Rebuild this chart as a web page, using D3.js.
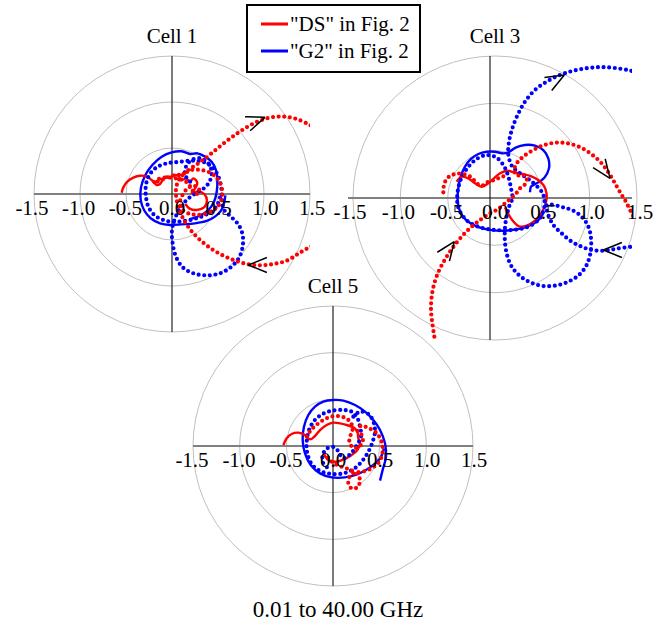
<!DOCTYPE html>
<html>
<head>
<meta charset="utf-8">
<script src="https://d3js.org/d3.v7.min.js"></script>
<style>
body { margin:0; background:#fff; }
svg { display:block; }
text { font-family: "Liberation Serif", "Times New Roman", serif; fill:#000; }
</style>
</head>
<body>
<div id="chart"></div>
<script>
// values, as [re, im]
var tickValues = [-1.5, -1.0, -0.5, 0.0, 0.5, 1.0, 1.5];
var ringValues = [0.5, 1.0, 1.5];
var legendLabels = ['"DS" in Fig. 2', '"G2" in Fig. 2'];
var freqLabel = "0.01 to 40.00 GHz";

var cell1RedDotted = [[1.57,-0.54],[1.518,-0.565],[1.391,-0.638],[1.246,-0.725],[1.101,-0.761],[0.957,-0.775],[0.812,-0.761],[0.667,-0.717],[0.522,-0.652],[0.395,-0.572],[0.286,-0.482],[0.196,-0.384],[0.130,-0.283],[0.080,-0.174],[0.051,-0.065],[0.043,0.043],[0.069,0.145],[0.130,0.217],[0.214,0.261],[0.312,0.261],[0.413,0.232],[0.493,0.170],[0.540,0.072],[0.543,-0.036],[0.504,-0.130],[0.420,-0.192],[0.304,-0.225],[0.196,-0.217],[0.116,-0.174],[0.087,-0.090],[0.120,0.000],[0.170,0.060],[0.230,0.090],[0.280,0.070],[0.300,0.020],[0.260,0.000],[0.220,0.040],[0.180,0.110],[0.120,0.150],[0.040,0.170],[-0.060,0.180],[-0.150,0.160],[-0.200,0.120],[-0.120,0.150],[-0.020,0.190],[0.060,0.210],[0.105,0.207],[0.178,0.261],[0.261,0.315],[0.348,0.377],[0.438,0.449],[0.540,0.533],[0.649,0.616],[0.775,0.703],[0.920,0.783],[1.065,0.830],[1.210,0.841],[1.355,0.815],[1.500,0.750],[1.572,0.714]];
var cell1RedSolid = [[-0.547,0.014],[-0.529,0.072],[-0.486,0.134],[-0.420,0.178],[-0.348,0.199],[-0.275,0.188],[-0.221,0.152],[-0.167,0.098],[-0.130,0.109],[-0.101,0.152],[-0.065,0.188],[-0.022,0.181],[0.022,0.207],[0.069,0.196],[0.105,0.152],[0.152,0.170],[0.196,0.134],[0.232,0.170],[0.275,0.123],[0.250,0.060],[0.214,0.007],[0.286,0.029],[0.351,0.000],[0.380,-0.072],[0.348,-0.145],[0.268,-0.174],[0.188,-0.156],[0.145,-0.109]];
var cell1BlueSolid = [[0.580,-0.014],[0.565,-0.101],[0.533,-0.181],[0.467,-0.246],[0.377,-0.293],[0.250,-0.319],[0.105,-0.330],[-0.022,-0.337],[-0.130,-0.319],[-0.232,-0.264],[-0.304,-0.174],[-0.341,-0.058],[-0.337,0.072],[-0.293,0.199],[-0.214,0.315],[-0.112,0.406],[-0.004,0.453],[0.105,0.464],[0.196,0.435],[0.275,0.442],[0.359,0.406],[0.431,0.351],[0.478,0.261],[0.493,0.145],[0.486,0.025],[0.457,-0.083],[0.395,-0.174],[0.297,-0.239],[0.188,-0.275]];
var cell1BlueDotted = [[0.196,0.134],[0.141,0.207],[0.152,0.297],[0.214,0.370],[0.312,0.388],[0.395,0.333],[0.431,0.243],[0.413,0.145],[0.359,0.072],[0.268,0.014],[0.167,-0.058],[0.087,-0.156],[0.033,-0.264],[0.000,-0.391],[0.007,-0.536],[0.043,-0.681],[0.116,-0.797],[0.232,-0.862],[0.377,-0.884],[0.522,-0.862],[0.638,-0.797],[0.725,-0.699],[0.768,-0.572],[0.768,-0.446],[0.725,-0.337],[0.649,-0.254],[0.565,-0.170],[0.543,-0.065],[0.536,0.062],[0.504,0.188],[0.442,0.290],[0.341,0.348],[0.214,0.362],[0.069,0.348],[-0.058,0.333],[-0.167,0.290],[-0.246,0.207],[-0.283,0.098],[-0.283,-0.029],[-0.254,-0.145],[-0.188,-0.232],[-0.094,-0.283],[0.014,-0.304],[0.141,-0.293],[0.268,-0.264],[0.384,-0.217],[0.478,-0.145],[0.522,-0.036]];

var cell3RedDotted = [[-0.588,-1.465],[-0.609,-1.324],[-0.623,-1.183],[-0.616,-1.042],[-0.588,-0.901],[-0.539,-0.768],[-0.475,-0.648],[-0.398,-0.532],[-0.306,-0.415],[-0.201,-0.310],[-0.095,-0.225],[0.000,-0.162],[0.081,-0.120],[0.151,-0.063],[0.211,-0.014],[0.264,0.032],[0.317,0.102],[0.370,0.144],[0.387,0.208],[0.335,0.250],[0.282,0.236],[0.257,0.296],[0.282,0.366],[0.352,0.437],[0.458,0.507],[0.574,0.560],[0.704,0.585],[0.835,0.574],[0.961,0.532],[1.074,0.461],[1.173,0.373],[1.257,0.261],[1.327,0.144],[1.391,0.032],[1.426,-0.021],[1.479,-0.127],[1.532,-0.225],[1.574,-0.296]];
var cell3RedDottedLeft = [[-0.493,0.060],[-0.482,0.155],[-0.433,0.225],[-0.352,0.257],[-0.264,0.250],[-0.194,0.215],[-0.141,0.155],[-0.088,0.130],[-0.035,0.165],[0.018,0.180],[0.070,0.201],[0.130,0.225],[0.187,0.243]];
var cell3RedSolid = [[-0.352,0.172],[-0.299,0.225],[-0.229,0.208],[-0.158,0.155],[-0.088,0.119],[-0.018,0.155],[0.042,0.208],[0.106,0.261],[0.183,0.288],[0.264,0.267],[0.345,0.253],[0.430,0.232],[0.510,0.190],[0.570,0.127],[0.598,0.042],[0.588,-0.056],[0.546,-0.155],[0.475,-0.240],[0.380,-0.296],[0.299,-0.296],[0.240,-0.240],[0.194,-0.169],[0.158,-0.099]];
var cell3BlueSolid = [[0.423,0.060],[0.433,0.120],[0.493,0.155],[0.574,0.215],[0.623,0.313],[0.616,0.419],[0.563,0.507],[0.475,0.553],[0.370,0.560],[0.271,0.532],[0.194,0.482],[0.130,0.472],[0.053,0.489],[-0.035,0.489],[-0.123,0.465],[-0.201,0.412],[-0.264,0.331],[-0.310,0.225],[-0.335,0.102],[-0.342,-0.021],[-0.327,-0.109],[-0.282,-0.204],[-0.194,-0.275],[-0.070,-0.324],[0.070,-0.345],[0.229,-0.338],[0.370,-0.310],[0.493,-0.250],[0.563,-0.162]];
var cell3BlueDotted = [[1.595,-0.500],[1.496,-0.514],[1.356,-0.532],[1.215,-0.556],[1.074,-0.549],[0.968,-0.514],[0.863,-0.461],[0.757,-0.373],[0.669,-0.285],[0.609,-0.162],[0.595,-0.080],[0.640,-0.070],[0.775,-0.099],[0.880,-0.134],[0.975,-0.204],[1.039,-0.303],[1.067,-0.426],[1.063,-0.567],[1.021,-0.708],[0.940,-0.813],[0.827,-0.884],[0.704,-0.923],[0.563,-0.930],[0.433,-0.894],[0.317,-0.824],[0.229,-0.725],[0.180,-0.602],[0.158,-0.461],[0.158,-0.320],[0.176,-0.190],[0.204,-0.085],[0.236,-0.004],[0.222,0.102],[0.194,0.225],[0.151,0.331],[0.070,0.426],[-0.035,0.454],[-0.141,0.412],[-0.236,0.320],[-0.306,0.201],[-0.342,0.067],[-0.342,-0.074],[-0.306,-0.162],[-0.229,-0.250],[-0.106,-0.310],[0.053,-0.338],[0.229,-0.338],[0.387,-0.310],[0.511,-0.232],[0.567,-0.127],[0.574,-0.004],[0.546,0.067],[0.440,0.173],[0.317,0.261],[0.236,0.331],[0.194,0.454],[0.201,0.595],[0.236,0.736],[0.292,0.877],[0.370,1.018],[0.475,1.141],[0.599,1.229],[0.722,1.292],[0.845,1.335],[0.968,1.363],[1.109,1.380],[1.250,1.380],[1.391,1.363],[1.496,1.342],[1.567,1.320]];

var cell5RedSolid = [[-0.532,0.011],[-0.496,0.082],[-0.443,0.129],[-0.371,0.143],[-0.300,0.118],[-0.246,0.071],[-0.193,0.107],[-0.139,0.171],[-0.068,0.225],[0.004,0.250],[0.075,0.243],[0.146,0.225],[0.218,0.200],[0.261,0.154],[0.271,0.082],[0.289,0.029],[0.261,-0.043],[0.200,-0.096],[0.118,-0.143],[0.032,-0.168],[-0.039,-0.157],[-0.086,-0.107],[-0.096,-0.050]];
var cell5RedDotted = [[-0.282,0.100],[-0.229,0.179],[-0.146,0.250],[-0.061,0.300],[0.032,0.321],[0.118,0.307],[0.182,0.261],[0.211,0.189],[0.189,0.118],[0.175,0.046],[0.211,-0.014],[0.271,-0.014],[0.318,0.046],[0.307,0.118],[0.261,0.164],[0.296,0.214],[0.389,0.189],[0.468,0.136],[0.521,0.046],[0.532,-0.061],[0.496,-0.168],[0.414,-0.239],[0.318,-0.275],[0.236,-0.286],[0.182,-0.321],[0.164,-0.400],[0.200,-0.454],[0.261,-0.443],[0.289,-0.371],[0.261,-0.300],[0.189,-0.257],[0.111,-0.229],[0.021,-0.193],[-0.039,-0.143],[-0.075,-0.079]];
var cell5BlueSolid = [[0.504,-0.371],[0.532,-0.257],[0.568,-0.114],[0.557,0.029],[0.504,0.171],[0.432,0.279],[0.343,0.368],[0.236,0.439],[0.111,0.486],[0.004,0.493],[-0.104,0.475],[-0.193,0.421],[-0.264,0.332],[-0.311,0.207],[-0.325,0.064],[-0.300,-0.079],[-0.239,-0.204],[-0.139,-0.293],[-0.014,-0.336],[0.129,-0.336],[0.271,-0.300],[0.396,-0.229],[0.504,-0.132],[0.546,-0.025]];
var cell5BlueDotted = [[0.218,0.314],[0.289,0.368],[0.379,0.343],[0.432,0.261],[0.450,0.154],[0.425,0.046],[0.379,-0.061],[0.307,-0.168],[0.218,-0.250],[0.111,-0.293],[-0.014,-0.300],[-0.139,-0.268],[-0.229,-0.193],[-0.275,-0.079],[-0.282,0.046],[-0.257,0.171],[-0.200,0.271],[-0.111,0.343],[-0.004,0.379],[0.111,0.386],[0.200,0.368],[0.260,0.300],[0.289,0.207],[0.300,0.100],[0.250,0.000],[0.182,-0.090],[0.104,-0.130],[0.060,-0.060],[0.004,-0.010],[-0.068,-0.030],[-0.111,-0.100],[-0.104,-0.186],[-0.050,-0.240]];

// arrow marks: [re, im, heading in degrees]
var cell1Arrows = [[1.011,0.833,20],[0.830,-0.772,180]];
var cell3Arrows = [[0.785,1.299,29],[1.268,0.208,-54],[1.197,-0.549,180],[-0.377,-0.461,54]];

var red = "#ff0000", blue = "#0000ff";

//ringShift: the rings and labels of Cell 3 sit a little right of its axes
var cells = [
	{name:"Cell 1", cx:172, cy:194, R:138, ringShift:0, labelR:140,
	 solid:[[cell1BlueSolid,blue],[cell1RedSolid,red]],
	 dotted:[[cell1BlueDotted,blue],[cell1RedDotted,red]],
	 arrows:cell1Arrows},
	{name:"Cell 3", cx:490, cy:198, R:142, ringShift:5, labelR:145,
	 solid:[[cell3BlueSolid,blue],[cell3RedSolid,red]],
	 dotted:[[cell3BlueDotted,blue],[cell3RedDotted,red],[cell3RedDottedLeft,red]],
	 arrows:cell3Arrows},
	{name:"Cell 5", cx:333, cy:446, R:140, ringShift:0, labelR:141,
	 solid:[[cell5BlueSolid,blue],[cell5RedSolid,red]],
	 dotted:[[cell5BlueDotted,blue],[cell5RedDotted,red]],
	 arrows:[]}
];

var width = 664, height = 624;
var svg = d3.select("#chart").append("svg")
	.attr("width", width)
	.attr("height", height);
svg.append("rect").attr("width", width).attr("height", height).attr("fill", "#fff");

cells.forEach(function(c, i){
	var x = d3.scaleLinear().domain([-1.5, 1.5]).range([-c.R, c.R]);
	var y = d3.scaleLinear().domain([-1.5, 1.5]).range([c.R, -c.R]);
	var xl = d3.scaleLinear().domain([-1.5, 1.5]).range([c.ringShift - c.labelR, c.ringShift + c.labelR]);
	var g = svg.append("g").attr("transform", "translate(" + c.cx + "," + c.cy + ")");

	//rings
	g.selectAll("circle.ring")
		.data(ringValues)
		.enter().append("circle")
		.attr("class", "ring")
		.attr("cx", c.ringShift)
		.attr("r", function(d){ return x(d) - x(0); })
		.attr("fill", "none")
		.attr("stroke", "#c0c0c0")
		.attr("stroke-width", 1);

	//axes
	g.append("line")
		.attr("x1", x(-1.5)).attr("x2", x(1.5))
		.attr("y1", 0).attr("y2", 0)
		.attr("stroke", "#808080").attr("stroke-width", 2);
	g.append("line")
		.attr("x1", 0).attr("x2", 0)
		.attr("y1", y(1.5)).attr("y2", y(-1.5))
		.attr("stroke", "#222").attr("stroke-width", 1.2);

	//curves, clipped to the square plot area
	var clipId = "clip" + i;
	g.append("clipPath").attr("id", clipId)
		.append("rect")
		.attr("x", x(-1.5)).attr("y", y(1.5))
		.attr("width", x(1.5) - x(-1.5)).attr("height", y(-1.5) - y(1.5));
	var curves = g.append("g").attr("clip-path", "url(#" + clipId + ")");
	var line = d3.line()
		.x(function(d){ return x(d[0]); })
		.y(function(d){ return y(d[1]); })
		.curve(d3.curveCatmullRom.alpha(0.5));

	c.solid.forEach(function(s){
		curves.append("path")
			.attr("d", line(s[0]))
			.attr("fill", "none")
			.attr("stroke", s[1])
			.attr("stroke-width", 2.4)
			.attr("stroke-linejoin", "round");
	});
	c.dotted.forEach(function(s){
		curves.append("path")
			.attr("d", line(s[0]))
			.attr("fill", "none")
			.attr("stroke", s[1])
			.attr("stroke-width", 4.2)
			.attr("stroke-linecap", "round")
			.attr("stroke-dasharray", "0 5.6");
	});

	//arrow heads (open chevrons)
	var arm = 20, spread = 22;
	c.arrows.forEach(function(a){
		var tx = x(a[0]), ty = y(a[1]);
		[spread, -spread].forEach(function(s){
			var ang = (a[2] + 180 + s) * Math.PI / 180;
			g.append("line")
				.attr("x1", tx).attr("y1", ty)
				.attr("x2", tx + arm * Math.cos(ang))
				.attr("y2", ty - arm * Math.sin(ang))
				.attr("stroke", "#000").attr("stroke-width", 1.5);
		});
	});

	//tick labels
	g.selectAll("text.tick")
		.data(tickValues)
		.enter().append("text")
		.attr("class", "tick")
		.attr("x", function(d){ return xl(d); })
		.attr("y", 21)
		.attr("text-anchor", "middle")
		.style("font-size", "21px")
		.text(function(d){ return d.toFixed(1); });

	//title
	g.append("text")
		.attr("x", c.ringShift)
		.attr("y", y(1.5) - 13)
		.attr("text-anchor", "middle")
		.style("font-size", "21px")
		.text(c.name);
});

//legend
var legend = svg.append("g").attr("transform", "translate(247,5)");
legend.append("rect")
	.attr("width", 173).attr("height", 67)
	.attr("fill", "#fff").attr("stroke", "#000").attr("stroke-width", 2);
[red, blue].forEach(function(col, i){
	legend.append("line")
		.attr("x1", 14).attr("x2", 41)
		.attr("y1", 19 + i * 27).attr("y2", 19 + i * 27)
		.attr("stroke", col).attr("stroke-width", 3);
	legend.append("text")
		.attr("x", 43)
		.attr("y", 26 + i * 27)
		.style("font-size", "21px")
		.text(legendLabels[i]);
});

svg.append("text")
	.attr("x", 338)
	.attr("y", 617)
	.attr("text-anchor", "middle")
	.style("font-size", "23px")
	.text(freqLabel);
</script>
</body>
</html>
